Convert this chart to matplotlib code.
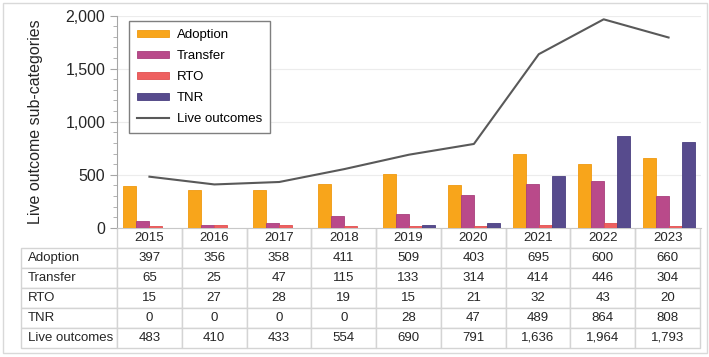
import matplotlib
matplotlib.use('Agg')
import matplotlib.pyplot as plt
from matplotlib.patches import Rectangle
from matplotlib.ticker import MultipleLocator, FuncFormatter
import numpy as np

plt.rcParams['font.family'] = ['Liberation Sans', 'DejaVu Sans']

# data
years = ['2015', '2016', '2017', '2018', '2019', '2020', '2021', '2022', '2023']
adoption = [397, 356, 358, 411, 509, 403, 695, 600, 660]
transfer = [65, 25, 47, 115, 133, 314, 414, 446, 304]
rto = [15, 27, 28, 19, 15, 21, 32, 43, 20]
tnr = [0, 0, 0, 0, 28, 47, 489, 864, 808]
live_outcomes = [483, 410, 433, 554, 690, 791, 1636, 1964, 1793]

series_names = ['Adoption', 'Transfer', 'RTO', 'TNR']
series_values = [adoption, transfer, rto, tnr]
series_colors = ['#F8A51B', '#B94A8A', '#EE6060', '#574B8D']
edge_colors = ['#F09A10', '#A83F7C', '#E05050', '#4A3F80']

W, H = 709, 357
fig = plt.figure(figsize=(W / 100, H / 100), dpi=100)

# light frame around the whole picture
fig.patches.append(Rectangle((3 / W, 4 / H), 704 / W, 350 / H, transform=fig.transFigure,
                             fill=False, edgecolor='#d9d9d9', linewidth=1))

ax_l, ax_r, ax_t, ax_b = 117, 701, 15.5, 228
ax = fig.add_axes([ax_l / W, 1 - ax_b / H, (ax_r - ax_l) / W, (ax_b - ax_t) / H])

n = np.arange(len(years))
bw = 0.2
offsets = [-1.5 * bw, -0.5 * bw, 0.5 * bw, 1.5 * bw]
for name, vals, col, ec, off in zip(series_names, series_values, series_colors, edge_colors, offsets):
    ax.bar(n + off, vals, width=bw, color=col, edgecolor=ec, linewidth=0.6, label=name, zorder=3)

ax.plot(n, live_outcomes, color='#595959', linewidth=1.5, label='Live outcomes', zorder=4)

ax.set_xlim(-0.5, len(years) - 0.5)
ax.set_ylim(0, 2000)
ax.yaxis.set_major_locator(MultipleLocator(500))
ax.yaxis.set_minor_locator(MultipleLocator(100))
ax.yaxis.set_major_formatter(FuncFormatter(lambda v, p: f'{int(v):,}'))
ax.tick_params(axis='y', which='both', direction='out', color='#a6a6a6', labelsize=11.5,
               labelcolor='#262626')
ax.tick_params(axis='y', which='major', length=5)
ax.tick_params(axis='y', which='minor', length=3)
ax.tick_params(axis='x', length=0, labelbottom=False)
ax.grid(axis='y', color='#ececec', linewidth=0.8, zorder=0)
for s in ['top', 'right']:
    ax.spines[s].set_visible(False)
ax.spines['left'].set_color('#a6a6a6')
ax.spines['bottom'].set_color('#c8c8c8')
ax.set_ylabel('Live outcome sub-categories', fontsize=11.5, color='#262626', labelpad=16)

# bars first, line last in the legend
handles, labels = ax.get_legend_handles_labels()
order = [labels.index(nm) for nm in series_names + ['Live outcomes']]
leg = ax.legend([handles[i] for i in order], [labels[i] for i in order],
                loc='upper left', bbox_to_anchor=(12 / 584, (ax_b - 21) / (ax_b - ax_t)),
                borderaxespad=0, fancybox=False, framealpha=1, edgecolor='#7f7f7f',
                fontsize=9.5, labelspacing=0.68, handlelength=2.45, handleheight=0.45,
                handletextpad=0.6, borderpad=0.6)
leg.get_frame().set_linewidth(1.0)

# data table under the axis
cell_text = [[name] + [f'{v:,}' for v in vals]
             for name, vals in zip(series_names + ['Live outcomes'], series_values + [live_outcomes])]
tab_left, tab_right, tab_bot = 21, 700, 348
tab_w = tab_right - tab_left
label_w = ax_l - tab_left
col_w = (tab_right - ax_l) / len(years)
ax_w = ax_r - ax_l
ax_h = ax_b - ax_t
tbl = ax.table(cellText=cell_text, colLabels=[''] + years,
               colWidths=[label_w / tab_w] + [col_w / tab_w] * len(years),
               cellLoc='center',
               bbox=[(tab_left - ax_l) / ax_w, (ax_b - tab_bot) / ax_h, tab_w / ax_w, (tab_bot - ax_b) / ax_h])
tbl.auto_set_font_size(False)
tbl.set_fontsize(9.5)
for (r, c), cell in tbl.get_celld().items():
    cell.set_edgecolor('#d4d4d4')
    cell.set_linewidth(1.0)
    cell.get_text().set_color('#262626')
    if c == 0:
        cell.get_text().set_horizontalalignment('left')
        cell.PAD = 0.07
        cell._loc = 'left'
    if r == 0 and c == 0:
        cell.visible_edges = ''
    elif r == 0:
        cell.visible_edges = 'LRB'

fig.savefig('out.png', dpi=100)
